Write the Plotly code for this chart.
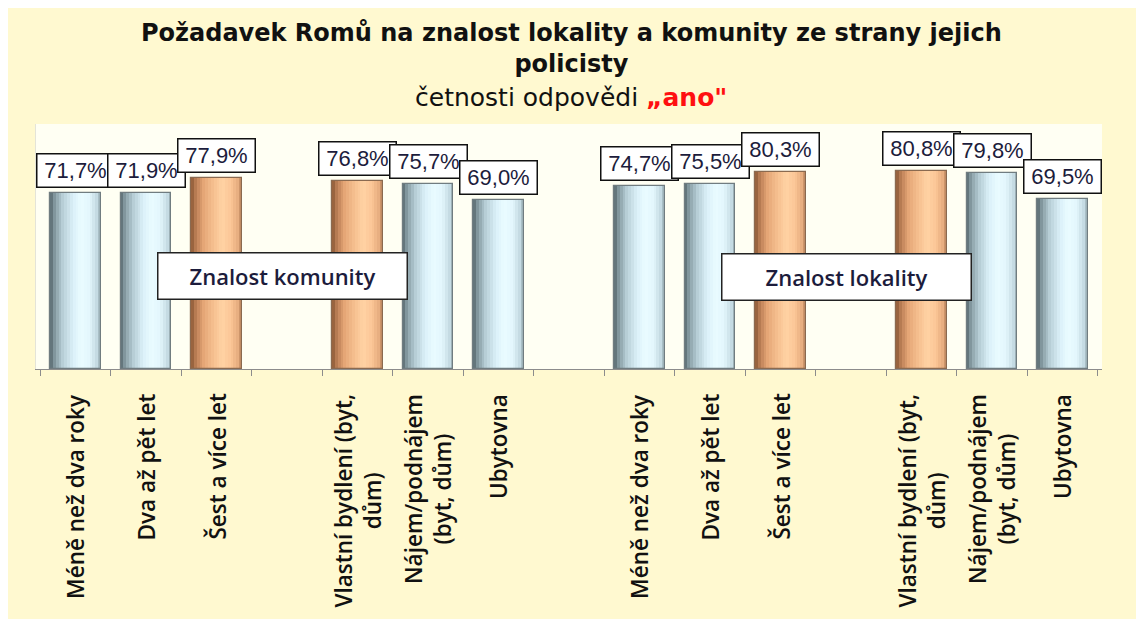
import plotly.graph_objects as go

# ---------------- data ----------------
groups = ["Znalost komunity", "Znalost lokality"]
categories = [
    "Méně než dva roky",
    "Dva až pět let",
    "Šest a více let",
    "Vlastní bydlení (byt,<br>dům)",
    "Nájem/podnájem<br>(byt, dům)",
    "Ubytovna",
]
komunita = [71.7, 71.9, 77.9, 76.8, 75.7, 69.0]
lokalita = [74.7, 75.5, 80.3, 80.8, 79.8, 69.5]
highlight = [False, False, True, True, False, False]

title_main = "Požadavek Romů na znalost lokality a komunity ze strany jejich<br>policisty"
subtitle_plain = "četnosti odpovědi "
subtitle_red = "„ano\""

# ---------------- styling ----------------
BLUE_STOPS = [(0.0, "#56666c"), (0.1, "#8aa0a7"), (0.25, "#b7ced6"),
              (0.45, "#dbf1f9"), (0.62, "#eafcff"), (0.78, "#e2f6fc"), (0.92, "#c4dae2"), (1.0, "#9ab0b7")]
ORANGE_STOPS = [(0.0, "#8a5836"), (0.1, "#bf8258"), (0.25, "#e5a676"), (0.45, "#f7c292"),
                (0.62, "#ffd2a4"), (0.78, "#fbc696"), (0.92, "#e8ae80"), (1.0, "#bf885e")]


def hex2rgb(h):
    h = h.lstrip("#")
    return tuple(int(h[i:i + 2], 16) for i in (0, 2, 4))


def interp(stops, t):
    for (t0, c0), (t1, c1) in zip(stops[:-1], stops[1:]):
        if t0 <= t <= t1:
            f = (t - t0) / (t1 - t0) if t1 > t0 else 0
            a, b = hex2rgb(c0), hex2rgb(c1)
            return "rgb(%d,%d,%d)" % tuple(round(a[k] + (b[k] - a[k]) * f) for k in range(3))
    return stops[-1][1]


# ---------------- build category slots ----------------
slots = []
xs, ys, hl, labels = [], [], [], []
gap_n = 0
for gi, g in enumerate(groups):
    vals = komunita if gi == 0 else lokalita
    if gi > 0:
        slots.append("gap%d" % gap_n); gap_n += 1
    for ci, c in enumerate(categories):
        if ci == 3:
            slots.append("gap%d" % gap_n); gap_n += 1
        key = "%s::%s" % (g, c)
        slots.append(key)
        xs.append(key); ys.append(vals[ci]); hl.append(highlight[ci]); labels.append(c)

fig = go.Figure()

BW = 0.72
N = 18
step = BW / N
for i in range(N):
    t = (i + 0.5) / N
    off = -BW / 2 + i * step
    w = min(step * 1.4, BW / 2 - off)
    cols = [interp(ORANGE_STOPS if h else BLUE_STOPS, t) for h in hl]
    fig.add_trace(go.Bar(x=xs, y=ys, width=w, offset=off,
                         marker=dict(color=cols, line=dict(width=0)),
                         hoverinfo="skip", showlegend=False))

# outline
fig.add_trace(go.Bar(x=xs, y=ys, width=BW, offset=-BW / 2,
                     marker=dict(color="rgba(0,0,0,0)",
                                 line=dict(color=["#8a6a50" if h else "#707c80" for h in hl], width=1.2)),
                     hoverinfo="skip", showlegend=False))

annotations = []
# value labels
for x, y in zip(xs, ys):
    annotations.append(dict(
        x=x, y=y, xref="x", yref="y", yanchor="bottom", xanchor="center", yshift=5,
        text=("%.1f%%" % y).replace(".", ","), showarrow=False,
        font=dict(family="Liberation Sans, Arial", size=22, color="#1c1c3c"),
        bgcolor="#ffffff", bordercolor="#111111", borderwidth=1.5, borderpad=2,
        width=72, height=28,
    ))

# category labels (rotated)
for x, lab in zip(xs, labels):
    annotations.append(dict(
        x=x, y=0, xref="x", yref="paper", yanchor="top", xanchor="center", yshift=-23,
        text=lab, textangle=-90, showarrow=False, align="center",
        font=dict(family="Open Sans", size=22.5, color="#111111", weight=600),
    ))

# group boxes
for gx, gy, g in [(0.2312, 0.3776, groups[0]), (0.7603, 0.3735, groups[1])]:
    annotations.append(dict(
        x=gx, y=gy, xref="paper", yref="paper", xanchor="center", yanchor="middle",
        text=g, showarrow=False, width=246, height=43, borderpad=1,
        font=dict(family="Open Sans", size=22, color="#1c1c3c", weight=600),
        bgcolor="#ffffff", bordercolor="#222222", borderwidth=1.5,
    ))

# title
annotations.append(dict(
    x=0.5023, y=1.310, xref="paper", yref="paper", xanchor="center", yanchor="middle",
    text="<b>" + title_main + "</b>", showarrow=False, align="center",
    font=dict(family="DejaVu Sans", size=24, color="#111111"),
))
annotations.append(dict(
    x=0.5023, y=1.110, xref="paper", yref="paper", xanchor="center", yanchor="middle",
    text=subtitle_plain + "<span style='color:#ff1010'><b>" + subtitle_red + "</b></span>",
    showarrow=False,
    font=dict(family="DejaVu Sans", size=25, color="#111111"),
))

fig.update_layout(
    width=1144, height=619,
    margin=dict(l=28, r=50, t=116, b=258),
    paper_bgcolor="#fff9d0",
    plot_bgcolor="#fffff3",
    barmode="overlay",
    bargap=0,
    showlegend=False,
    annotations=annotations,
    xaxis=dict(type="category", categoryorder="array", categoryarray=slots,
               showticklabels=False, ticks="outside", tickson="boundaries",
               ticklen=6, tickcolor="#8c8c8c", showline=True, linecolor="#8c8c8c",
               linewidth=1, showgrid=False, zeroline=False, fixedrange=True),
    yaxis=dict(range=[0, 100], showticklabels=False, showgrid=False, zeroline=False,
               showline=True, linecolor="#e4e4d8", ticks="", fixedrange=True),
)

fig.write_html("out.html")
